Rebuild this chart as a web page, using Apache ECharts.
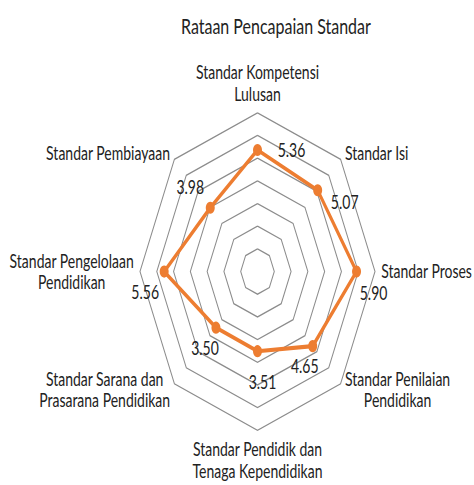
<!DOCTYPE html>
<html>
<head>
  <meta charset="utf-8">
  <title>Rataan Pencapaian Standar</title>
  <script src="https://cdn.jsdelivr.net/npm/echarts@6/dist/echarts.min.js"></script>
  <style>
    html, body { margin: 0; padding: 0; background: #fff; }
    body { width: 474px; height: 485px; overflow: hidden; }
    /* the source picture is stretched vertically, so the chart is drawn flat and scaled */
    #chart { width: 474px; height: 359px; transform: scaleY(1.351); transform-origin: 0 0; }
  </style>
</head>
<body>
<div id="chart"></div>
<script>
  // data, clockwise from the top
  var categories = [
    'Standar Kompetensi\nLulusan',
    'Standar Isi',
    'Standar Proses',
    'Standar Penilaian\nPendidikan',
    'Standar Pendidik dan\nTenaga Kependidikan',
    'Standar Sarana dan\nPrasarana Pendidikan',
    'Standar Pengelolaan\nPendidikan',
    'Standar Pembiayaan'
  ];
  var values = [5.36, 5.07, 5.90, 4.65, 3.51, 3.50, 5.56, 3.98];
  var maxValue = 7;

  // where each value label sits relative to its point
  var labelOffsets = [[34, 0], [27, 9], [17, 16], [-8, 15], [5, 23], [-11, 15], [-19, 15], [-20, -15]];

  var FONT = 'Lato';
  var center = [257.5, 201];
  var radius = 117.5;
  var n = categories.length;

  // radar goes counter-clockwise, so reverse all but the first
  var radarCats = [categories[0]].concat(categories.slice(1).reverse());

  var lineData = values.map(function (v, i) {
    return {
      value: [v, i * 360 / n],
      label: { offset: labelOffsets[i] }
    };
  });
  lineData.push({ value: [values[0], 360], symbol: 'none', label: { show: false } });

  var chart = echarts.init(document.getElementById('chart'), null, { renderer: 'svg' });
  chart.setOption({
    backgroundColor: '#fff',
    animation: false,
    title: {
      text: 'Rataan Pencapaian Standar',
      left: 176,
      top: 6,
      textStyle: { fontFamily: FONT, fontSize: 16, fontWeight: 'normal', color: '#222' }
    },
    radar: {
      center: center,
      radius: radius,
      startAngle: 90,
      splitNumber: 7,
      shape: 'polygon',
      nameGap: 6,
      axisName: {
        color: '#222',
        fontFamily: FONT,
        fontSize: 14,
        lineHeight: 16,
        formatter: function (name) {
          return name.split('\n').map(function (s) { return '{c|' + s + '}'; }).join('\n');
        },
        rich: { c: { fontFamily: FONT, fontSize: 14, lineHeight: 16, color: '#222', align: 'center' } }
      },
      axisLine: { show: false },
      splitArea: { show: false },
      splitLine: { lineStyle: { color: '#8c8c8c', width: 1 } },
      indicator: radarCats.map(function (c) { return { name: c, max: maxValue, min: 0 }; })
    },
    polar: { center: center, radius: radius },
    angleAxis: { type: 'value', min: 0, max: 360, startAngle: 90, clockwise: true, show: false },
    radiusAxis: { type: 'value', min: 0, max: maxValue, show: false },
    series: [{
      type: 'line',
      coordinateSystem: 'polar',
      data: lineData,
      symbol: 'circle',
      symbolSize: 9,
      lineStyle: { color: '#ED7D31', width: 3 },
      itemStyle: { color: '#ED7D31' },
      label: {
        show: true,
        position: 'inside',
        fontFamily: FONT,
        fontSize: 14,
        color: '#222',
        formatter: function (p) { return p.value[0].toFixed(2); }
      }
    }]
  });
</script>
</body>
</html>
